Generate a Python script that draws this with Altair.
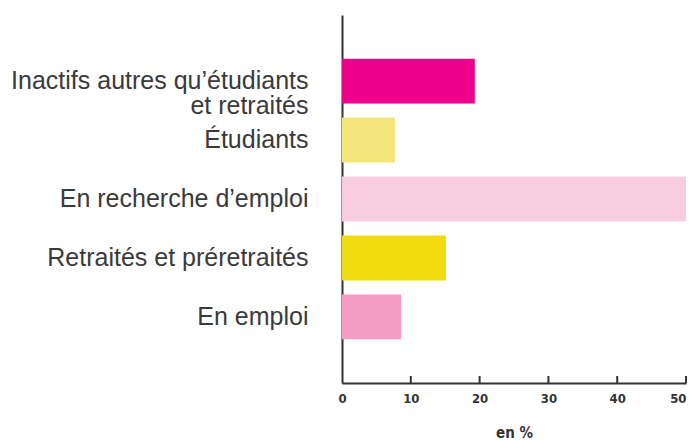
import altair as alt
import pandas as pd

categories = [
    "Inactifs autres qu’étudiants|et retraités",
    "Étudiants",
    "En recherche d’emploi",
    "Retraités et préretraités",
    "En emploi",
]
values = [19.3, 7.7, 50.0, 15.1, 8.6]
colors = ["#EC008C", "#F4E67A", "#F9CDE0", "#F0DC10", "#F49CC4"]
tick_values = [0, 10, 20, 30, 40, 50]
inner_ticks = [10, 20, 30, 40, 50]

df = pd.DataFrame({"cat": categories, "val": values, "color": colors})
ticks_df = pd.DataFrame({"t": inner_ticks})

W, H = 344, 368
cond_font = "DejaVu Sans Condensed, Liberation Sans Narrow, Roboto Condensed, sans-serif"

x_scale = alt.Scale(domain=[0, 50], nice=False, zero=True)

bars = alt.Chart(df).mark_bar().encode(
    x=alt.X(
        "val:Q",
        scale=x_scale,
        axis=alt.Axis(
            values=tick_values,
            ticks=False,
            grid=False,
            labelFlush=False,
            labelAlign=alt.condition("datum.value == 50", alt.value("right"), alt.value("center")),
            domainColor="#333333",
            domainWidth=2,
            labelFont=cond_font,
            labelFontWeight="bold",
            labelFontSize=13,
            labelColor="#333333",
            labelPadding=9,
            title="en %",
            titleFont=cond_font,
            titleFontWeight="bold",
            titleFontSize=15,
            titleColor="#333333",
            titlePadding=20,
        ),
    ),
    y=alt.Y(
        "cat:N",
        sort=categories,
        scale=alt.Scale(domain=categories, paddingInner=0.24, paddingOuter=0.74),
        axis=alt.Axis(
            title=None,
            ticks=False,
            grid=False,
            domainColor="#333333",
            domainWidth=2,
            labelFont="Liberation Sans, Arial, sans-serif",
            labelFontSize=25,
            labelColor="#3a3a3a",
            labelPadding=34,
            labelLineHeight=25,
            labelLimit=400,
            labelExpr="split(datum.label, '|')",
        ),
    ),
    color=alt.Color("color:N", scale=None, legend=None),
)

tick_marks = alt.Chart(ticks_df).mark_rule(color="#333333", strokeWidth=2).encode(
    x=alt.X("t:Q", scale=x_scale),
    y=alt.value(H - 7),
    y2=alt.value(H),
)

chart = alt.layer(bars, tick_marks).properties(
    width=W,
    height=H,
    background="white",
    autosize=alt.AutoSizeParams(type="none"),
    padding={"left": 334, "top": 7, "right": 1, "bottom": 60},
).configure_view(stroke=None)

chart.save("out.html", embed_options={"renderer": "svg", "actions": False})
